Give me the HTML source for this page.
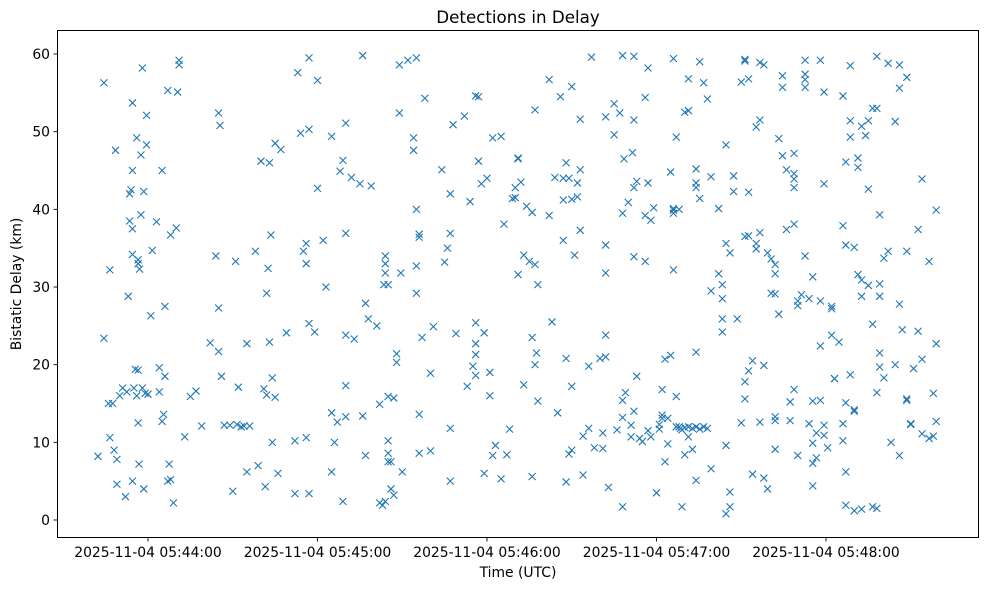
<!DOCTYPE html>
<html><head><meta charset="utf-8"><title>Detections in Delay</title>
<style>
html,body{margin:0;padding:0;background:#fff;}
svg{display:block;font-family:"DejaVu Sans","Liberation Sans",sans-serif;}
</style></head>
<body>
<svg id="chart" width="989" height="590" viewBox="0 0 989 590">
  <rect x="0" y="0" width="989" height="590" fill="#fff"/>
  <text x="518" y="23" text-anchor="middle" font-size="16.7" fill="#000">Detections in Delay</text>
  <g id="marks"></g>
  <g id="xticks"></g>
  <g id="yticks"></g>
  <rect x="57.5" y="30.5" width="921" height="507" fill="none" stroke="#000" stroke-width="1"/>
  <text x="518" y="577" text-anchor="middle" font-size="13.9" fill="#000">Time (UTC)</text>
  <text x="21" y="284" text-anchor="middle" font-size="13.9" fill="#000" transform="rotate(-90 21 284)">Bistatic Delay (km)</text>
</svg>
<script>
// seconds relative to 05:44:00 UTC, delay in km
const detectionPoints = [
[-17.7,8.2],[-15.6,56.3],[-15.6,23.4],[-14,15],[-13.5,32.2],[-13.5,10.6],[-12.5,15],[-12,9],[-11.5,47.6],[-11,7.8],[-11,4.6],[-10,16],[-9,17],[-8,3],[-7.5,16.5],[-7,28.8],[-6.5,42],[-6.5,38.5],[-6,42.5],[-5.5,53.7],[-5.5,45],[-5.5,37.5],[-5.5,34.2],[-5.5,5],[-5,17],[-4.5,19.4],[-4,49.2],[-4,16],[-3.5,33.5],[-3.5,33],[-3.5,19.3],[-3.5,12.5],[-3.2,7.2],[-3,32.3],[-2.5,39.3],[-2.5,47],[-2,58.2],[-2,17],[-1.5,42.3],[-1.5,4],[-1,16.3],[-0.5,52.1],[-0.5,48.3],[0,16.2],[1,26.3],[1.5,34.7],[3,38.4],[4,19.6],[4,16.5],[5,12.7],[5,45],[5.5,13.6],[6,27.5],[6,18.5],
[7,55.3],[7,5],[7.5,7.2],[8,36.7],[8,5.2],[9,2.2],[10,37.6],[10.5,55.1],[11,59.2],[11,58.6],[13,10.7],[15,15.9],[17,16.6],[19,12.1],[22,22.8],[24,34],[25,27.3],[25,52.4],[25.5,50.8],[25,21.7],[26,18.5],[27,12.2],[29,12.2],[30,3.7],[31,33.3],[31.5,12.3],[32,17.1],[33,12],[34,12.1],[35,22.7],[35,6.2],[36,12.1],[38,34.6],[39,7],[40,46.2],[41,16.9],[41.5,4.3],[42,16.1],[42,29.2],[42.5,32.4],[43,22.9],[43,46],[43.5,36.7],[44,18.3],[44,10],[45,48.5],[45,15.8],[46,6],[47,47.7],[49,24.1],[52,3.4],[52,10.2],[53,57.6],[54,49.8],[55,34.6],[56,35.6],[56,33],[56,10.6],[57,50.3],[57,59.5],[57,25.3],[57,3.4],[59,24.2],[60,42.7],[60,56.6],[62,36],[63,30],[65,49.4],[65,6.2],[65,13.8],[66,10],[67,12.6],[68,44.9],[69,46.3],[69,2.4],[70,51.1],[70,36.9],[70,23.8],[70,17.3],[70,13.3],[72,44.1],[73,23.3],[75,43.3],[76,59.8],[76,13.4],[77,27.9],[77,8.3],[78,25.9],[79,43],[81,25],[82,2.2],[82,14.9],[83,1.9],[83.5,30.3],[84,2.4],[84,31.8],[84,34],[84,33],[85,30.3],[85,15.9],[85,10.2],[85,8.6],[85,7.5],[86,4],[86,7.5],[87,3.2],[87,15.7],[88,21.4],[88,20.3],[89,52.4],[89,58.6],[89.5,31.8],[90,6.2],[92,59.2],[94,49.2],[94,47.6],[95,59.5],[95,40],[95,29.2],[95,32.7],[96,36.8],[96,36.4],[96,13.6],[96,8.6],[97,23.5],[98,54.3],[100,8.9],[100,18.9],[101,24.9],[104,45.1],[105,33.2],[106,35],[107,42],[107,36.9],[107,11.8],[107,5],[108,50.9],[109,24],[112,52],[113,17.2],[114,41],[115,19.8],[116,22.7],[116,25.4],[116,21.3],[116,18.6],[116,54.6],[117,54.5],[117,46.2],[118,43.3],[119,24.1],[119,6],[120,44],[121,16],[121,19],[122,49.2],[122,8.3],[123,9.6],[125,49.4],[125,5.3],[126,38.1],[127,8.4],[128,11.7],[129,41.4],[130,42.8],[130,41.5],[131,46.6],[131,46.5],[131,31.6],[132,43.5],[133,34.1],[133,17.4],[134,40.4],[135,33.3],[136,23.5],[136,39.6],[136,5.6],[137,52.8],[137,20],[137,32.9],[137.5,21.5],[138,30.3],[138,15.3],[142,39.2],[142,56.7],[143,25.5],[144,44.1],[145,13.8],[146,54.5],[147,44],[147,41.2],[147,36],[148,46],[148,20.8],[148,4.9],[149,8.5],[149,44],[150,55.8],[150,9],[150,17.2],[150,41.3],[151,34.1],[152,43.4],[152,41.6],[153,45.1],[153,51.6],[153,37.3],[154,5.8],[154,10.8],[156,11.8],[156,19.8],[157,59.6],[158,9.3],[160,20.8],[161,11.2],[161,9.2],[162,51.9],[162,23.8],[162,21],[162,35.4],[162,31.8],[163,4.2],[165,49.6],[165,53.6],[166,11.6],[167,52.4],[168,59.8],[168,1.7],[168.5,46.5],[168,39.5],[168,15.4],[168,13.2],[169,16.4],[170,40.9],[171,10.7],[171,12.2],[171.5,47.3],[172,42.8],[172,14],[172,51.5],[172,33.9],[172,59.7],[173,43.6],[173,18.5],[174,10.5],[175,10.1],[176,39.2],[176,33.3],[176,54.4],[177,58.2],[177,43.4],[177,11.5],[178,38.6],[178,10.7],[179,40.2],[180,3.5],[181,12.3],[181,11.7],[182,16.8],[182,13.1],[182,13.5],[183,20.7],[183,7.5],[184,9.8],[184,13.1],[185,21.2],[185,44.8],[186,39.9],[186,32.2],[186,40.1],[186,59.4],[186,39.5],[187,15.9],[187,12],[187,49.3],[188,40],[188,12],[188.5,11.8],[189,1.7],[189,11.6],[190,52.5],[190,8.4],[190,11.9],
[191.3,12],[191.3,52.7],[191.3,56.8],[191.3,10.7],[192.7,11.8],[192.7,9.1],[194,12],[194,45.2],[194,21.6],[194,43.4],[194,42.8],[194,5.1],[195.3,11.7],[195.3,59],[195.3,41.4],[196.7,12],[196.7,56.3],[198,54.2],[198,11.8],[199.3,44.2],[199.3,6.6],[199.3,29.5],[202,31.7],[202,40.1],[203.3,30.3],[203.3,28.5],[203.3,24.2],[203.3,25.9],[204.6,48.3],[204.6,35.6],[204.6,9.6],[204.6,0.8],[206,3.6],[206,1.7],[206,34.4],[207.3,42.3],[207.3,44.3],[208.6,25.9],[210,12.5],[210,56.4],[211.3,59.1],[211.3,59.3],[211.3,36.5],[211.3,17.8],[211.3,15.6],[212.6,56.8],[212.6,42.2],[212.6,36.6],[212.6,19.2],[214,20.5],[214,5.9],[215.3,50.6],[215.3,35.6],[215.3,34.9],[216.6,37],[216.6,51.5],[216.6,12.6],[216.6,58.9],[218,58.6],[218,5.4],[218,19.9],[219.3,4],[219.3,34.4],[220.6,29.2],[220.6,33.6],[222,9.1],[222,32.9],[222,31.7],[222,29.1],[222,13.3],[222,12.8],[223.3,49.1],[223.3,26.5],[224.6,46.9],[224.6,57.2],[224.6,55.7],[226,45.1],[226,37.4],[227.3,12.8],[227.3,15.2],[228.7,44.6],[228.7,38.1],[228.7,43.9],[228.7,42.8],[228.7,47.2],[228.7,16.8],[230,28.2],[230,27.6],[230,8.3],[231.3,29],[232.6,55.7],[232.6,57.4],[232.6,34],[232.6,56.7],[232.6,59.2],[234,12.4],[234,28.5],[235.3,31.3],[235.3,15.3],[235.3,4.4],[235.3,9.9],[235.3,7.3],[236.6,8],[236.6,11.2],[238,59.2],[238,22.4],[238,28.2],[238,15.4],[239.3,43.3],[239.3,55.1],[239.3,10.9],[239.3,12.2],[240.6,9.3],[242,23.8],[242,27.2],[242,27.5],[243,18.2],[243,18.2],[244.6,22.9],[246,37.9],[246,10.2],[246,12.4],[246,54.6],[247,15.1],[247,46.1],[247,6.2],[247,1.9],[247,35.4],[248.6,58.5],[248.6,51.4],[248.6,49.3],[248.6,18.7],[250,35.1],[250,14.2],[250,1.2],[250,14],[251.3,31.6],[251.3,45.4],[251.3,46.6],[252.6,30.9],[252.6,28.8],[252.6,1.4],[252.6,50.7],[254,49.5],[255,42.6],[255,30.2],[255,51.4],[256.5,1.7],[256.5,25.2],[256.5,53],[258,53],[258,59.7],[258,16.4],[258,1.5],[259,21.5],[259,19.7],[259,28.8],[259,30.4],[259,39.3],[260.5,33.7],[260.5,18.3],[262,34.6],[262,58.8],[263,10],[264.5,51.3],[264.5,20],[266,8.3],[266,55.6],[266,58.6],[266,27.8],[267,24.5],[268.6,34.6],[268.6,57],[268.6,15.6],[268.6,15.4],[270,12.3],[270,12.4],[271,19.5],[272.6,24.3],[272.6,37.4],[274,43.9],[274,20.7],[274,11.1],[276.5,33.3],[276.5,10.5],[278,16.3],[278,10.8],[279,39.9],[279,12.7],[279,22.7]
];
const xTickSeconds = [0, 60, 120, 180, 240];
const xTickLabels = ["2025-11-04 05:44:00","2025-11-04 05:45:00","2025-11-04 05:46:00","2025-11-04 05:47:00","2025-11-04 05:48:00"];
const yTickValues = [0, 10, 20, 30, 40, 50, 60];

const X0 = 148, PX_PER_SEC = 169.5/60;
const Y0 = 520, PX_PER_KM = 466/60;
function xScale(t){ return X0 + t*PX_PER_SEC; }
function yScale(v){ return Y0 - v*PX_PER_KM; }
const NS = "http://www.w3.org/2000/svg";
function mk(tag, attrs){ const e=document.createElementNS(NS,tag); for(const k in attrs) e.setAttribute(k, attrs[k]); return e; }

const marks = document.getElementById('marks');
detectionPoints.forEach(function(p){
  const cx = xScale(p[0]), cy = yScale(p[1]), s = 3.5;
  const g = mk('path', {d:`M${cx-s},${cy-s}L${cx+s},${cy+s}M${cx-s},${cy+s}L${cx+s},${cy-s}`, stroke:'#1f77b4', 'stroke-width':'1.1', fill:'none'});
  
  
  marks.appendChild(g);
});

const xg = document.getElementById('xticks');
xTickSeconds.forEach(function(t, i){
  const x = xScale(t);
  const tk = mk('line', {x1:x, x2:x, y1:537.5, y2:541.5, stroke:'#000', 'stroke-width':'0.9'});
  
  
  xg.appendChild(tk);
  const lb = mk('text', {x:x, y:557, 'text-anchor':'middle', 'font-size':'13.9', fill:'#000'});
  lb.textContent = xTickLabels[i];
  
  
  xg.appendChild(lb);
});

const yg = document.getElementById('yticks');
yTickValues.forEach(function(v){
  const y = yScale(v);
  const tk = mk('line', {x1:53.5, x2:57.5, y1:y, y2:y, stroke:'#000', 'stroke-width':'0.9'});
  
  
  yg.appendChild(tk);
  const lb = mk('text', {x:50, y:y+5, 'text-anchor':'end', 'font-size':'13.9', fill:'#000'});
  lb.textContent = String(v);
  
  
  yg.appendChild(lb);
});
</script>
</body></html>
